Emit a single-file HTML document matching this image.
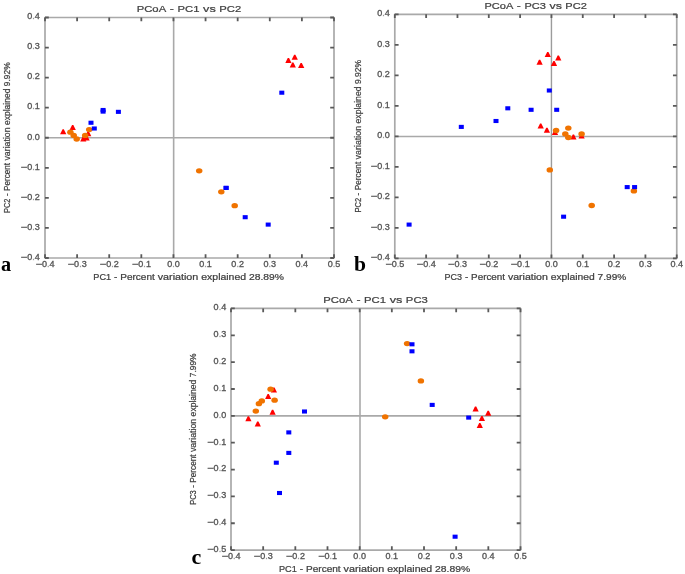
<!DOCTYPE html>
<html><head><meta charset="utf-8"><style>
html,body{margin:0;padding:0;background:#fff;}
svg{display:block;}
text{font-family:"Liberation Sans",sans-serif;fill:#404040;stroke:#404040;stroke-width:0.22px;}
text.tk{font-size:8.6px;fill:#555555;stroke:#555555;stroke-width:0.32px;}
text.dt{fill-opacity:0.45;stroke-opacity:0.45;}
text.ti{font-size:9.7px;}
text.xl{font-size:8.3px;}
text.yl{font-size:9.7px;}
text.let{font-family:"Liberation Serif",serif;font-weight:bold;font-size:19.7px;fill:#000;stroke:none;}
</style></head><body>
<svg width="685" height="574" viewBox="0 0 685 574">
<defs>
<filter id="bs" x="0" y="0" width="685" height="574" filterUnits="userSpaceOnUse"><feGaussianBlur stdDeviation="0.45"/></filter>
<filter id="bt" x="0" y="0" width="685" height="574" filterUnits="userSpaceOnUse"><feGaussianBlur stdDeviation="0.68"/></filter>
</defs>
<rect width="685" height="574" fill="#fff"/>
<g filter="url(#bs)">
<line x1="173.65" y1="17.5" x2="173.65" y2="258" stroke="#a9a9a9" stroke-width="1.6"/>
<line x1="45" y1="137.75" x2="334" y2="137.75" stroke="#a9a9a9" stroke-width="1.6"/>
<path d="M62.55 129.25H63.85L66.3 134.25H60.1Z" fill="#ff0000"/>
<path d="M72.05 125H73.35L75.8 130H69.6Z" fill="#ff0000"/>
<path d="M82.65 136.5H83.95L86.4 141.5H80.2Z" fill="#ff0000"/>
<path d="M87.55 131.3H88.85L91.3 136.3H85.1Z" fill="#ff0000"/>
<path d="M85.95 135.5H87.25L89.7 140.5H83.5Z" fill="#ff0000"/>
<path d="M294.1 54.8H295.4L297.85 59.8H291.65Z" fill="#ff0000"/>
<path d="M287.75 58H289.05L291.5 63H285.3Z" fill="#ff0000"/>
<path d="M292.15 62.4H293.45L295.9 67.4H289.7Z" fill="#ff0000"/>
<path d="M300.55 63.1H301.85L304.3 68.1H298.1Z" fill="#ff0000"/>
<ellipse cx="70.4" cy="132.2" rx="3.25" ry="2.65" fill="#f07300"/>
<ellipse cx="73.7" cy="135.4" rx="3.25" ry="2.65" fill="#f07300"/>
<ellipse cx="76.7" cy="139" rx="3.25" ry="2.65" fill="#f07300"/>
<ellipse cx="85.2" cy="135.4" rx="3.25" ry="2.65" fill="#f07300"/>
<ellipse cx="89.2" cy="129.6" rx="3.25" ry="2.65" fill="#f07300"/>
<ellipse cx="199.2" cy="170.8" rx="3.25" ry="2.65" fill="#f07300"/>
<ellipse cx="221.3" cy="191.8" rx="3.25" ry="2.65" fill="#f07300"/>
<ellipse cx="234.7" cy="205.7" rx="3.25" ry="2.65" fill="#f07300"/>
<rect x="100.6" y="107.95" width="5.0" height="4.1" fill="#0000ff"/>
<rect x="100.6" y="109.55" width="5.0" height="4.1" fill="#0000ff"/>
<rect x="115.9" y="109.8" width="5.0" height="4.1" fill="#0000ff"/>
<rect x="88.5" y="120.7" width="5.0" height="4.1" fill="#0000ff"/>
<rect x="91.8" y="126.45" width="5.0" height="4.1" fill="#0000ff"/>
<rect x="279.3" y="90.65" width="5.0" height="4.1" fill="#0000ff"/>
<rect x="223.6" y="185.85" width="5.0" height="4.1" fill="#0000ff"/>
<rect x="223.6" y="185.85" width="5.0" height="4.1" fill="#0000ff"/>
<rect x="242.7" y="215.15" width="5.0" height="4.1" fill="#0000ff"/>
<rect x="265.7" y="222.55" width="5.0" height="4.1" fill="#0000ff"/>
<rect x="45" y="17.5" width="289" height="240.5" fill="none" stroke="#a9a9a9" stroke-width="1.7" stroke-linejoin="round"/>
<path d="M45 17.5v3.8M45 258v-3.8M77.11 17.5v3.8M77.11 258v-3.8M109.22 17.5v3.8M109.22 258v-3.8M141.33 17.5v3.8M141.33 258v-3.8M173.44 17.5v3.8M173.44 258v-3.8M205.56 17.5v3.8M205.56 258v-3.8M237.67 17.5v3.8M237.67 258v-3.8M269.78 17.5v3.8M269.78 258v-3.8M301.89 17.5v3.8M301.89 258v-3.8M334 17.5v3.8M334 258v-3.8M45 258h3.8M334 258h-3.8M45 227.94h3.8M334 227.94h-3.8M45 197.88h3.8M334 197.88h-3.8M45 167.81h3.8M334 167.81h-3.8M45 137.75h3.8M334 137.75h-3.8M45 107.69h3.8M334 107.69h-3.8M45 77.62h3.8M334 77.62h-3.8M45 47.56h3.8M334 47.56h-3.8M45 17.5h3.8M334 17.5h-3.8" stroke="#5a5a5a" stroke-width="1.8" fill="none"/>
<line x1="551.44" y1="14.28" x2="551.44" y2="258.35" stroke="#9c9c9c" stroke-width="1.4"/>
<line x1="394.8" y1="136.45" x2="676.75" y2="136.45" stroke="#a9a9a9" stroke-width="1.6"/>
<path d="M547.15 52.1H548.45L550.9 57.1H544.7Z" fill="#ff0000"/>
<path d="M538.95 59.7H540.25L542.7 64.7H536.5Z" fill="#ff0000"/>
<path d="M557.65 55.6H558.95L561.4 60.6H555.2Z" fill="#ff0000"/>
<path d="M553.35 60.9H554.65L557.1 65.9H550.9Z" fill="#ff0000"/>
<path d="M540.05 123.5H541.35L543.8 128.5H537.6Z" fill="#ff0000"/>
<path d="M546.25 127.8H547.55L550 132.8H543.8Z" fill="#ff0000"/>
<path d="M554.35 129.9H555.65L558.1 134.9H551.9Z" fill="#ff0000"/>
<path d="M572.75 134.5H574.05L576.5 139.5H570.3Z" fill="#ff0000"/>
<path d="M580.95 133.5H582.25L584.7 138.5H578.5Z" fill="#ff0000"/>
<ellipse cx="556.1" cy="130.5" rx="3.25" ry="2.65" fill="#f07300"/>
<ellipse cx="568.3" cy="128.1" rx="3.25" ry="2.65" fill="#f07300"/>
<ellipse cx="565.3" cy="133.9" rx="3.25" ry="2.65" fill="#f07300"/>
<ellipse cx="568.3" cy="137.5" rx="3.25" ry="2.65" fill="#f07300"/>
<ellipse cx="581.6" cy="133.9" rx="3.25" ry="2.65" fill="#f07300"/>
<ellipse cx="549.8" cy="169.9" rx="3.25" ry="2.65" fill="#f07300"/>
<ellipse cx="591.7" cy="205.5" rx="3.25" ry="2.65" fill="#f07300"/>
<ellipse cx="633.9" cy="190.9" rx="3.25" ry="2.65" fill="#f07300"/>
<rect x="458.8" y="124.85" width="5.0" height="4.1" fill="#0000ff"/>
<rect x="493.5" y="118.95" width="5.0" height="4.1" fill="#0000ff"/>
<rect x="505.3" y="106.25" width="5.0" height="4.1" fill="#0000ff"/>
<rect x="528.6" y="107.75" width="5.0" height="4.1" fill="#0000ff"/>
<rect x="554.2" y="107.75" width="5.0" height="4.1" fill="#0000ff"/>
<rect x="546.8" y="88.45" width="5.0" height="4.1" fill="#0000ff"/>
<rect x="561.1" y="214.65" width="5.0" height="4.1" fill="#0000ff"/>
<rect x="624.7" y="185.05" width="5.0" height="4.1" fill="#0000ff"/>
<rect x="632.1" y="185.05" width="5.0" height="4.1" fill="#0000ff"/>
<rect x="406.6" y="222.55" width="5.0" height="4.1" fill="#0000ff"/>
<rect x="394.8" y="14.28" width="281.95" height="244.07" fill="none" stroke="#a9a9a9" stroke-width="1.7" stroke-linejoin="round"/>
<path d="M394.8 14.28v3.8M394.8 258.35v-3.8M426.13 14.28v3.8M426.13 258.35v-3.8M457.46 14.28v3.8M457.46 258.35v-3.8M488.78 14.28v3.8M488.78 258.35v-3.8M520.11 14.28v3.8M520.11 258.35v-3.8M551.44 14.28v3.8M551.44 258.35v-3.8M582.77 14.28v3.8M582.77 258.35v-3.8M614.09 14.28v3.8M614.09 258.35v-3.8M645.42 14.28v3.8M645.42 258.35v-3.8M676.75 14.28v3.8M676.75 258.35v-3.8M394.8 258.35h3.8M676.75 258.35h-3.8M394.8 227.84h3.8M676.75 227.84h-3.8M394.8 197.33h3.8M676.75 197.33h-3.8M394.8 166.82h3.8M676.75 166.82h-3.8M394.8 136.32h3.8M676.75 136.32h-3.8M394.8 105.81h3.8M676.75 105.81h-3.8M394.8 75.3h3.8M676.75 75.3h-3.8M394.8 44.79h3.8M676.75 44.79h-3.8M394.8 14.28h3.8M676.75 14.28h-3.8" stroke="#5a5a5a" stroke-width="1.8" fill="none"/>
<line x1="360" y1="308.45" x2="360" y2="550.1" stroke="#a9a9a9" stroke-width="1.6"/>
<line x1="231" y1="415.85" x2="520.5" y2="415.85" stroke="#a9a9a9" stroke-width="1.6"/>
<path d="M247.75 416.3H249.05L251.5 421.3H245.3Z" fill="#ff0000"/>
<path d="M257.15 421.4H258.45L260.9 426.4H254.7Z" fill="#ff0000"/>
<path d="M267.55 393.9H268.85L271.3 398.9H265.1Z" fill="#ff0000"/>
<path d="M271.95 409.7H273.25L275.7 414.7H269.5Z" fill="#ff0000"/>
<path d="M273.25 387.6H274.55L277 392.6H270.8Z" fill="#ff0000"/>
<path d="M474.95 406.4H476.25L478.7 411.4H472.5Z" fill="#ff0000"/>
<path d="M487.55 410.7H488.85L491.3 415.7H485.1Z" fill="#ff0000"/>
<path d="M481.25 415.9H482.55L485 420.9H478.8Z" fill="#ff0000"/>
<path d="M479.15 423.1H480.45L482.9 428.1H476.7Z" fill="#ff0000"/>
<ellipse cx="255.8" cy="411.1" rx="3.25" ry="2.65" fill="#f07300"/>
<ellipse cx="258.9" cy="403.7" rx="3.25" ry="2.65" fill="#f07300"/>
<ellipse cx="261.8" cy="400.9" rx="3.25" ry="2.65" fill="#f07300"/>
<ellipse cx="270.6" cy="389.2" rx="3.25" ry="2.65" fill="#f07300"/>
<ellipse cx="274.6" cy="400.2" rx="3.25" ry="2.65" fill="#f07300"/>
<ellipse cx="407.1" cy="343.6" rx="3.25" ry="2.65" fill="#f07300"/>
<ellipse cx="420.9" cy="380.9" rx="3.25" ry="2.65" fill="#f07300"/>
<ellipse cx="385.2" cy="416.8" rx="3.25" ry="2.65" fill="#f07300"/>
<rect x="302" y="409.45" width="5.0" height="4.1" fill="#0000ff"/>
<rect x="286.3" y="430.35" width="5.0" height="4.1" fill="#0000ff"/>
<rect x="286.3" y="450.85" width="5.0" height="4.1" fill="#0000ff"/>
<rect x="273.8" y="460.65" width="5.0" height="4.1" fill="#0000ff"/>
<rect x="277" y="490.95" width="5.0" height="4.1" fill="#0000ff"/>
<rect x="409.5" y="342.25" width="5.0" height="4.1" fill="#0000ff"/>
<rect x="409.5" y="349.25" width="5.0" height="4.1" fill="#0000ff"/>
<rect x="429.7" y="402.85" width="5.0" height="4.1" fill="#0000ff"/>
<rect x="466.2" y="415.55" width="5.0" height="4.1" fill="#0000ff"/>
<rect x="452.6" y="534.65" width="5.0" height="4.1" fill="#0000ff"/>
<rect x="231" y="308.45" width="289.5" height="241.65" fill="none" stroke="#a9a9a9" stroke-width="1.7" stroke-linejoin="round"/>
<path d="M231 308.45v3.8M231 550.1v-3.8M263.17 308.45v3.8M263.17 550.1v-3.8M295.33 308.45v3.8M295.33 550.1v-3.8M327.5 308.45v3.8M327.5 550.1v-3.8M359.67 308.45v3.8M359.67 550.1v-3.8M391.83 308.45v3.8M391.83 550.1v-3.8M424 308.45v3.8M424 550.1v-3.8M456.17 308.45v3.8M456.17 550.1v-3.8M488.33 308.45v3.8M488.33 550.1v-3.8M520.5 308.45v3.8M520.5 550.1v-3.8M231 550.1h3.8M520.5 550.1h-3.8M231 523.25h3.8M520.5 523.25h-3.8M231 496.4h3.8M520.5 496.4h-3.8M231 469.55h3.8M520.5 469.55h-3.8M231 442.7h3.8M520.5 442.7h-3.8M231 415.85h3.8M520.5 415.85h-3.8M231 389h3.8M520.5 389h-3.8M231 362.15h3.8M520.5 362.15h-3.8M231 335.3h3.8M520.5 335.3h-3.8M231 308.45h3.8M520.5 308.45h-3.8" stroke="#5a5a5a" stroke-width="1.8" fill="none"/>
</g>
<g filter="url(#bt)">
<text class="tk" x="35.41" y="267" textLength="6.62" lengthAdjust="spacingAndGlyphs">−</text><text class="tk" x="42.03" y="267" textLength="5.03" lengthAdjust="spacingAndGlyphs">0</text><text class="tk dt" x="47.05" y="267" textLength="2.51" lengthAdjust="spacingAndGlyphs">.</text><text class="tk" x="49.57" y="267" textLength="5.03" lengthAdjust="spacingAndGlyphs">4</text>
<text class="tk" x="67.52" y="267" textLength="6.62" lengthAdjust="spacingAndGlyphs">−</text><text class="tk" x="74.14" y="267" textLength="5.03" lengthAdjust="spacingAndGlyphs">0</text><text class="tk dt" x="79.17" y="267" textLength="2.51" lengthAdjust="spacingAndGlyphs">.</text><text class="tk" x="81.68" y="267" textLength="5.03" lengthAdjust="spacingAndGlyphs">3</text>
<text class="tk" x="99.63" y="267" textLength="6.62" lengthAdjust="spacingAndGlyphs">−</text><text class="tk" x="106.25" y="267" textLength="5.03" lengthAdjust="spacingAndGlyphs">0</text><text class="tk dt" x="111.28" y="267" textLength="2.51" lengthAdjust="spacingAndGlyphs">.</text><text class="tk" x="113.79" y="267" textLength="5.03" lengthAdjust="spacingAndGlyphs">2</text>
<text class="tk" x="131.74" y="267" textLength="6.62" lengthAdjust="spacingAndGlyphs">−</text><text class="tk" x="138.36" y="267" textLength="5.03" lengthAdjust="spacingAndGlyphs">0</text><text class="tk dt" x="143.39" y="267" textLength="2.51" lengthAdjust="spacingAndGlyphs">.</text><text class="tk" x="145.9" y="267" textLength="5.03" lengthAdjust="spacingAndGlyphs">1</text>
<text class="tk" x="167.16" y="267" textLength="5.03" lengthAdjust="spacingAndGlyphs">0</text><text class="tk dt" x="172.19" y="267" textLength="2.51" lengthAdjust="spacingAndGlyphs">.</text><text class="tk" x="174.7" y="267" textLength="5.03" lengthAdjust="spacingAndGlyphs">0</text>
<text class="tk" x="199.27" y="267" textLength="5.03" lengthAdjust="spacingAndGlyphs">0</text><text class="tk dt" x="204.3" y="267" textLength="2.51" lengthAdjust="spacingAndGlyphs">.</text><text class="tk" x="206.81" y="267" textLength="5.03" lengthAdjust="spacingAndGlyphs">1</text>
<text class="tk" x="231.38" y="267" textLength="5.03" lengthAdjust="spacingAndGlyphs">0</text><text class="tk dt" x="236.41" y="267" textLength="2.51" lengthAdjust="spacingAndGlyphs">.</text><text class="tk" x="238.92" y="267" textLength="5.03" lengthAdjust="spacingAndGlyphs">2</text>
<text class="tk" x="263.5" y="267" textLength="5.03" lengthAdjust="spacingAndGlyphs">0</text><text class="tk dt" x="268.52" y="267" textLength="2.51" lengthAdjust="spacingAndGlyphs">.</text><text class="tk" x="271.03" y="267" textLength="5.03" lengthAdjust="spacingAndGlyphs">3</text>
<text class="tk" x="295.61" y="267" textLength="5.03" lengthAdjust="spacingAndGlyphs">0</text><text class="tk dt" x="300.63" y="267" textLength="2.51" lengthAdjust="spacingAndGlyphs">.</text><text class="tk" x="303.14" y="267" textLength="5.03" lengthAdjust="spacingAndGlyphs">4</text>
<text class="tk" x="327.72" y="267" textLength="5.03" lengthAdjust="spacingAndGlyphs">0</text><text class="tk dt" x="332.74" y="267" textLength="2.51" lengthAdjust="spacingAndGlyphs">.</text><text class="tk" x="335.26" y="267" textLength="5.03" lengthAdjust="spacingAndGlyphs">5</text>
<text class="tk" x="20.62" y="259.8" textLength="6.62" lengthAdjust="spacingAndGlyphs">−</text><text class="tk" x="27.24" y="259.8" textLength="5.03" lengthAdjust="spacingAndGlyphs">0</text><text class="tk dt" x="32.26" y="259.8" textLength="2.51" lengthAdjust="spacingAndGlyphs">.</text><text class="tk" x="34.77" y="259.8" textLength="5.03" lengthAdjust="spacingAndGlyphs">4</text>
<text class="tk" x="20.62" y="229.74" textLength="6.62" lengthAdjust="spacingAndGlyphs">−</text><text class="tk" x="27.24" y="229.74" textLength="5.03" lengthAdjust="spacingAndGlyphs">0</text><text class="tk dt" x="32.26" y="229.74" textLength="2.51" lengthAdjust="spacingAndGlyphs">.</text><text class="tk" x="34.77" y="229.74" textLength="5.03" lengthAdjust="spacingAndGlyphs">3</text>
<text class="tk" x="20.62" y="199.68" textLength="6.62" lengthAdjust="spacingAndGlyphs">−</text><text class="tk" x="27.24" y="199.68" textLength="5.03" lengthAdjust="spacingAndGlyphs">0</text><text class="tk dt" x="32.26" y="199.68" textLength="2.51" lengthAdjust="spacingAndGlyphs">.</text><text class="tk" x="34.77" y="199.68" textLength="5.03" lengthAdjust="spacingAndGlyphs">2</text>
<text class="tk" x="20.62" y="169.61" textLength="6.62" lengthAdjust="spacingAndGlyphs">−</text><text class="tk" x="27.24" y="169.61" textLength="5.03" lengthAdjust="spacingAndGlyphs">0</text><text class="tk dt" x="32.26" y="169.61" textLength="2.51" lengthAdjust="spacingAndGlyphs">.</text><text class="tk" x="34.77" y="169.61" textLength="5.03" lengthAdjust="spacingAndGlyphs">1</text>
<text class="tk" x="27.24" y="139.55" textLength="5.03" lengthAdjust="spacingAndGlyphs">0</text><text class="tk dt" x="32.26" y="139.55" textLength="2.51" lengthAdjust="spacingAndGlyphs">.</text><text class="tk" x="34.77" y="139.55" textLength="5.03" lengthAdjust="spacingAndGlyphs">0</text>
<text class="tk" x="27.24" y="109.49" textLength="5.03" lengthAdjust="spacingAndGlyphs">0</text><text class="tk dt" x="32.26" y="109.49" textLength="2.51" lengthAdjust="spacingAndGlyphs">.</text><text class="tk" x="34.77" y="109.49" textLength="5.03" lengthAdjust="spacingAndGlyphs">1</text>
<text class="tk" x="27.24" y="79.42" textLength="5.03" lengthAdjust="spacingAndGlyphs">0</text><text class="tk dt" x="32.26" y="79.42" textLength="2.51" lengthAdjust="spacingAndGlyphs">.</text><text class="tk" x="34.77" y="79.42" textLength="5.03" lengthAdjust="spacingAndGlyphs">2</text>
<text class="tk" x="27.24" y="49.36" textLength="5.03" lengthAdjust="spacingAndGlyphs">0</text><text class="tk dt" x="32.26" y="49.36" textLength="2.51" lengthAdjust="spacingAndGlyphs">.</text><text class="tk" x="34.77" y="49.36" textLength="5.03" lengthAdjust="spacingAndGlyphs">3</text>
<text class="tk" x="27.24" y="19.3" textLength="5.03" lengthAdjust="spacingAndGlyphs">0</text><text class="tk dt" x="32.26" y="19.3" textLength="2.51" lengthAdjust="spacingAndGlyphs">.</text><text class="tk" x="34.77" y="19.3" textLength="5.03" lengthAdjust="spacingAndGlyphs">4</text>
<text class="ti" x="136.7" y="12.4" textLength="29.47" lengthAdjust="spacingAndGlyphs">PCoA</text><text class="ti" x="169.78" y="12.4" textLength="4.09" lengthAdjust="spacingAndGlyphs">-</text><text class="ti" x="177.48" y="12.4" textLength="21.99" lengthAdjust="spacingAndGlyphs">PC1</text><text class="ti" x="203.08" y="12.4" textLength="12.63" lengthAdjust="spacingAndGlyphs">vs</text><text class="ti" x="219.31" y="12.4" textLength="21.99" lengthAdjust="spacingAndGlyphs">PC2</text>
<text class="xl" x="93.3" y="280" textLength="17.8" lengthAdjust="spacingAndGlyphs">PC1</text><text class="xl" x="114.02" y="280" textLength="3.31" lengthAdjust="spacingAndGlyphs">-</text><text class="xl" x="120.25" y="280" textLength="34.56" lengthAdjust="spacingAndGlyphs">Percent</text><text class="xl" x="157.73" y="280" textLength="40.62" lengthAdjust="spacingAndGlyphs">variation</text><text class="xl" x="201.27" y="280" textLength="44.79" lengthAdjust="spacingAndGlyphs">explained</text><text class="xl" x="248.98" y="280" textLength="35.02" lengthAdjust="spacingAndGlyphs">28.89%</text>
<g transform="translate(9.6 213) rotate(-90)"><text class="yl" x="0" y="0" textLength="14.5" lengthAdjust="spacingAndGlyphs">PC2</text><text class="yl" x="16.88" y="0" textLength="2.7" lengthAdjust="spacingAndGlyphs">-</text><text class="yl" x="21.96" y="0" textLength="28.16" lengthAdjust="spacingAndGlyphs">Percent</text><text class="yl" x="52.49" y="0" textLength="33.09" lengthAdjust="spacingAndGlyphs">variation</text><text class="yl" x="87.96" y="0" textLength="36.49" lengthAdjust="spacingAndGlyphs">explained</text><text class="yl" x="126.83" y="0" textLength="23.77" lengthAdjust="spacingAndGlyphs">9.92%</text></g>
<text class="let" style="font-size:20.3px" x="1.1" y="270.5">a</text>
<text class="tk" x="385.21" y="267.4" textLength="6.62" lengthAdjust="spacingAndGlyphs">−</text><text class="tk" x="391.83" y="267.4" textLength="5.03" lengthAdjust="spacingAndGlyphs">0</text><text class="tk dt" x="396.85" y="267.4" textLength="2.51" lengthAdjust="spacingAndGlyphs">.</text><text class="tk" x="399.37" y="267.4" textLength="5.03" lengthAdjust="spacingAndGlyphs">5</text>
<text class="tk" x="416.54" y="267.4" textLength="6.62" lengthAdjust="spacingAndGlyphs">−</text><text class="tk" x="423.16" y="267.4" textLength="5.03" lengthAdjust="spacingAndGlyphs">0</text><text class="tk dt" x="428.18" y="267.4" textLength="2.51" lengthAdjust="spacingAndGlyphs">.</text><text class="tk" x="430.69" y="267.4" textLength="5.03" lengthAdjust="spacingAndGlyphs">4</text>
<text class="tk" x="447.86" y="267.4" textLength="6.62" lengthAdjust="spacingAndGlyphs">−</text><text class="tk" x="454.48" y="267.4" textLength="5.03" lengthAdjust="spacingAndGlyphs">0</text><text class="tk dt" x="459.51" y="267.4" textLength="2.51" lengthAdjust="spacingAndGlyphs">.</text><text class="tk" x="462.02" y="267.4" textLength="5.03" lengthAdjust="spacingAndGlyphs">3</text>
<text class="tk" x="479.19" y="267.4" textLength="6.62" lengthAdjust="spacingAndGlyphs">−</text><text class="tk" x="485.81" y="267.4" textLength="5.03" lengthAdjust="spacingAndGlyphs">0</text><text class="tk dt" x="490.84" y="267.4" textLength="2.51" lengthAdjust="spacingAndGlyphs">.</text><text class="tk" x="493.35" y="267.4" textLength="5.03" lengthAdjust="spacingAndGlyphs">2</text>
<text class="tk" x="510.52" y="267.4" textLength="6.62" lengthAdjust="spacingAndGlyphs">−</text><text class="tk" x="517.14" y="267.4" textLength="5.03" lengthAdjust="spacingAndGlyphs">0</text><text class="tk dt" x="522.17" y="267.4" textLength="2.51" lengthAdjust="spacingAndGlyphs">.</text><text class="tk" x="524.68" y="267.4" textLength="5.03" lengthAdjust="spacingAndGlyphs">1</text>
<text class="tk" x="545.16" y="267.4" textLength="5.03" lengthAdjust="spacingAndGlyphs">0</text><text class="tk dt" x="550.18" y="267.4" textLength="2.51" lengthAdjust="spacingAndGlyphs">.</text><text class="tk" x="552.69" y="267.4" textLength="5.03" lengthAdjust="spacingAndGlyphs">0</text>
<text class="tk" x="576.48" y="267.4" textLength="5.03" lengthAdjust="spacingAndGlyphs">0</text><text class="tk dt" x="581.51" y="267.4" textLength="2.51" lengthAdjust="spacingAndGlyphs">.</text><text class="tk" x="584.02" y="267.4" textLength="5.03" lengthAdjust="spacingAndGlyphs">1</text>
<text class="tk" x="607.81" y="267.4" textLength="5.03" lengthAdjust="spacingAndGlyphs">0</text><text class="tk dt" x="612.84" y="267.4" textLength="2.51" lengthAdjust="spacingAndGlyphs">.</text><text class="tk" x="615.35" y="267.4" textLength="5.03" lengthAdjust="spacingAndGlyphs">2</text>
<text class="tk" x="639.14" y="267.4" textLength="5.03" lengthAdjust="spacingAndGlyphs">0</text><text class="tk dt" x="644.17" y="267.4" textLength="2.51" lengthAdjust="spacingAndGlyphs">.</text><text class="tk" x="646.68" y="267.4" textLength="5.03" lengthAdjust="spacingAndGlyphs">3</text>
<text class="tk" x="670.47" y="267.4" textLength="5.03" lengthAdjust="spacingAndGlyphs">0</text><text class="tk dt" x="675.49" y="267.4" textLength="2.51" lengthAdjust="spacingAndGlyphs">.</text><text class="tk" x="678.01" y="267.4" textLength="5.03" lengthAdjust="spacingAndGlyphs">4</text>
<text class="tk" x="370.62" y="260.15" textLength="6.62" lengthAdjust="spacingAndGlyphs">−</text><text class="tk" x="377.24" y="260.15" textLength="5.03" lengthAdjust="spacingAndGlyphs">0</text><text class="tk dt" x="382.26" y="260.15" textLength="2.51" lengthAdjust="spacingAndGlyphs">.</text><text class="tk" x="384.77" y="260.15" textLength="5.03" lengthAdjust="spacingAndGlyphs">4</text>
<text class="tk" x="370.62" y="229.64" textLength="6.62" lengthAdjust="spacingAndGlyphs">−</text><text class="tk" x="377.24" y="229.64" textLength="5.03" lengthAdjust="spacingAndGlyphs">0</text><text class="tk dt" x="382.26" y="229.64" textLength="2.51" lengthAdjust="spacingAndGlyphs">.</text><text class="tk" x="384.77" y="229.64" textLength="5.03" lengthAdjust="spacingAndGlyphs">3</text>
<text class="tk" x="370.62" y="199.13" textLength="6.62" lengthAdjust="spacingAndGlyphs">−</text><text class="tk" x="377.24" y="199.13" textLength="5.03" lengthAdjust="spacingAndGlyphs">0</text><text class="tk dt" x="382.26" y="199.13" textLength="2.51" lengthAdjust="spacingAndGlyphs">.</text><text class="tk" x="384.77" y="199.13" textLength="5.03" lengthAdjust="spacingAndGlyphs">2</text>
<text class="tk" x="370.62" y="168.62" textLength="6.62" lengthAdjust="spacingAndGlyphs">−</text><text class="tk" x="377.24" y="168.62" textLength="5.03" lengthAdjust="spacingAndGlyphs">0</text><text class="tk dt" x="382.26" y="168.62" textLength="2.51" lengthAdjust="spacingAndGlyphs">.</text><text class="tk" x="384.77" y="168.62" textLength="5.03" lengthAdjust="spacingAndGlyphs">1</text>
<text class="tk" x="377.24" y="138.12" textLength="5.03" lengthAdjust="spacingAndGlyphs">0</text><text class="tk dt" x="382.26" y="138.12" textLength="2.51" lengthAdjust="spacingAndGlyphs">.</text><text class="tk" x="384.77" y="138.12" textLength="5.03" lengthAdjust="spacingAndGlyphs">0</text>
<text class="tk" x="377.24" y="107.61" textLength="5.03" lengthAdjust="spacingAndGlyphs">0</text><text class="tk dt" x="382.26" y="107.61" textLength="2.51" lengthAdjust="spacingAndGlyphs">.</text><text class="tk" x="384.77" y="107.61" textLength="5.03" lengthAdjust="spacingAndGlyphs">1</text>
<text class="tk" x="377.24" y="77.1" textLength="5.03" lengthAdjust="spacingAndGlyphs">0</text><text class="tk dt" x="382.26" y="77.1" textLength="2.51" lengthAdjust="spacingAndGlyphs">.</text><text class="tk" x="384.77" y="77.1" textLength="5.03" lengthAdjust="spacingAndGlyphs">2</text>
<text class="tk" x="377.24" y="46.59" textLength="5.03" lengthAdjust="spacingAndGlyphs">0</text><text class="tk dt" x="382.26" y="46.59" textLength="2.51" lengthAdjust="spacingAndGlyphs">.</text><text class="tk" x="384.77" y="46.59" textLength="5.03" lengthAdjust="spacingAndGlyphs">3</text>
<text class="tk" x="377.24" y="16.08" textLength="5.03" lengthAdjust="spacingAndGlyphs">0</text><text class="tk dt" x="382.26" y="16.08" textLength="2.51" lengthAdjust="spacingAndGlyphs">.</text><text class="tk" x="384.77" y="16.08" textLength="5.03" lengthAdjust="spacingAndGlyphs">4</text>
<text class="ti" x="484.5" y="8.9" textLength="28.85" lengthAdjust="spacingAndGlyphs">PCoA</text><text class="ti" x="516.88" y="8.9" textLength="4.01" lengthAdjust="spacingAndGlyphs">-</text><text class="ti" x="524.42" y="8.9" textLength="21.52" lengthAdjust="spacingAndGlyphs">PC3</text><text class="ti" x="549.48" y="8.9" textLength="12.36" lengthAdjust="spacingAndGlyphs">vs</text><text class="ti" x="565.38" y="8.9" textLength="21.52" lengthAdjust="spacingAndGlyphs">PC2</text>
<text class="xl" x="444.6" y="280.1" textLength="17.49" lengthAdjust="spacingAndGlyphs">PC3</text><text class="xl" x="464.96" y="280.1" textLength="3.26" lengthAdjust="spacingAndGlyphs">-</text><text class="xl" x="471.09" y="280.1" textLength="33.97" lengthAdjust="spacingAndGlyphs">Percent</text><text class="xl" x="507.93" y="280.1" textLength="39.92" lengthAdjust="spacingAndGlyphs">variation</text><text class="xl" x="550.72" y="280.1" textLength="44.03" lengthAdjust="spacingAndGlyphs">explained</text><text class="xl" x="597.62" y="280.1" textLength="28.68" lengthAdjust="spacingAndGlyphs">7.99%</text>
<g transform="translate(360.8 212.6) rotate(-90)"><text class="yl" x="0" y="0" textLength="14.69" lengthAdjust="spacingAndGlyphs">PC2</text><text class="yl" x="17.1" y="0" textLength="2.74" lengthAdjust="spacingAndGlyphs">-</text><text class="yl" x="22.25" y="0" textLength="28.53" lengthAdjust="spacingAndGlyphs">Percent</text><text class="yl" x="53.19" y="0" textLength="33.53" lengthAdjust="spacingAndGlyphs">variation</text><text class="yl" x="89.13" y="0" textLength="36.98" lengthAdjust="spacingAndGlyphs">explained</text><text class="yl" x="128.51" y="0" textLength="24.09" lengthAdjust="spacingAndGlyphs">9.92%</text></g>
<text class="let" style="font-size:21.6px" x="353.9" y="271.3">b</text>
<text class="tk" x="221.41" y="559.4" textLength="6.62" lengthAdjust="spacingAndGlyphs">−</text><text class="tk" x="228.03" y="559.4" textLength="5.03" lengthAdjust="spacingAndGlyphs">0</text><text class="tk dt" x="233.05" y="559.4" textLength="2.51" lengthAdjust="spacingAndGlyphs">.</text><text class="tk" x="235.57" y="559.4" textLength="5.03" lengthAdjust="spacingAndGlyphs">4</text>
<text class="tk" x="253.58" y="559.4" textLength="6.62" lengthAdjust="spacingAndGlyphs">−</text><text class="tk" x="260.19" y="559.4" textLength="5.03" lengthAdjust="spacingAndGlyphs">0</text><text class="tk dt" x="265.22" y="559.4" textLength="2.51" lengthAdjust="spacingAndGlyphs">.</text><text class="tk" x="267.73" y="559.4" textLength="5.03" lengthAdjust="spacingAndGlyphs">3</text>
<text class="tk" x="285.74" y="559.4" textLength="6.62" lengthAdjust="spacingAndGlyphs">−</text><text class="tk" x="292.36" y="559.4" textLength="5.03" lengthAdjust="spacingAndGlyphs">0</text><text class="tk dt" x="297.39" y="559.4" textLength="2.51" lengthAdjust="spacingAndGlyphs">.</text><text class="tk" x="299.9" y="559.4" textLength="5.03" lengthAdjust="spacingAndGlyphs">2</text>
<text class="tk" x="317.91" y="559.4" textLength="6.62" lengthAdjust="spacingAndGlyphs">−</text><text class="tk" x="324.53" y="559.4" textLength="5.03" lengthAdjust="spacingAndGlyphs">0</text><text class="tk dt" x="329.55" y="559.4" textLength="2.51" lengthAdjust="spacingAndGlyphs">.</text><text class="tk" x="332.07" y="559.4" textLength="5.03" lengthAdjust="spacingAndGlyphs">1</text>
<text class="tk" x="353.38" y="559.4" textLength="5.03" lengthAdjust="spacingAndGlyphs">0</text><text class="tk dt" x="358.41" y="559.4" textLength="2.51" lengthAdjust="spacingAndGlyphs">.</text><text class="tk" x="360.92" y="559.4" textLength="5.03" lengthAdjust="spacingAndGlyphs">0</text>
<text class="tk" x="385.55" y="559.4" textLength="5.03" lengthAdjust="spacingAndGlyphs">0</text><text class="tk dt" x="390.58" y="559.4" textLength="2.51" lengthAdjust="spacingAndGlyphs">.</text><text class="tk" x="393.09" y="559.4" textLength="5.03" lengthAdjust="spacingAndGlyphs">1</text>
<text class="tk" x="417.72" y="559.4" textLength="5.03" lengthAdjust="spacingAndGlyphs">0</text><text class="tk dt" x="422.74" y="559.4" textLength="2.51" lengthAdjust="spacingAndGlyphs">.</text><text class="tk" x="425.26" y="559.4" textLength="5.03" lengthAdjust="spacingAndGlyphs">2</text>
<text class="tk" x="449.88" y="559.4" textLength="5.03" lengthAdjust="spacingAndGlyphs">0</text><text class="tk dt" x="454.91" y="559.4" textLength="2.51" lengthAdjust="spacingAndGlyphs">.</text><text class="tk" x="457.42" y="559.4" textLength="5.03" lengthAdjust="spacingAndGlyphs">3</text>
<text class="tk" x="482.05" y="559.4" textLength="5.03" lengthAdjust="spacingAndGlyphs">0</text><text class="tk dt" x="487.08" y="559.4" textLength="2.51" lengthAdjust="spacingAndGlyphs">.</text><text class="tk" x="489.59" y="559.4" textLength="5.03" lengthAdjust="spacingAndGlyphs">4</text>
<text class="tk" x="514.22" y="559.4" textLength="5.03" lengthAdjust="spacingAndGlyphs">0</text><text class="tk dt" x="519.24" y="559.4" textLength="2.51" lengthAdjust="spacingAndGlyphs">.</text><text class="tk" x="521.76" y="559.4" textLength="5.03" lengthAdjust="spacingAndGlyphs">5</text>
<text class="tk" x="207.02" y="551.9" textLength="6.62" lengthAdjust="spacingAndGlyphs">−</text><text class="tk" x="213.64" y="551.9" textLength="5.03" lengthAdjust="spacingAndGlyphs">0</text><text class="tk dt" x="218.66" y="551.9" textLength="2.51" lengthAdjust="spacingAndGlyphs">.</text><text class="tk" x="221.17" y="551.9" textLength="5.03" lengthAdjust="spacingAndGlyphs">5</text>
<text class="tk" x="207.02" y="525.05" textLength="6.62" lengthAdjust="spacingAndGlyphs">−</text><text class="tk" x="213.64" y="525.05" textLength="5.03" lengthAdjust="spacingAndGlyphs">0</text><text class="tk dt" x="218.66" y="525.05" textLength="2.51" lengthAdjust="spacingAndGlyphs">.</text><text class="tk" x="221.17" y="525.05" textLength="5.03" lengthAdjust="spacingAndGlyphs">4</text>
<text class="tk" x="207.02" y="498.2" textLength="6.62" lengthAdjust="spacingAndGlyphs">−</text><text class="tk" x="213.64" y="498.2" textLength="5.03" lengthAdjust="spacingAndGlyphs">0</text><text class="tk dt" x="218.66" y="498.2" textLength="2.51" lengthAdjust="spacingAndGlyphs">.</text><text class="tk" x="221.17" y="498.2" textLength="5.03" lengthAdjust="spacingAndGlyphs">3</text>
<text class="tk" x="207.02" y="471.35" textLength="6.62" lengthAdjust="spacingAndGlyphs">−</text><text class="tk" x="213.64" y="471.35" textLength="5.03" lengthAdjust="spacingAndGlyphs">0</text><text class="tk dt" x="218.66" y="471.35" textLength="2.51" lengthAdjust="spacingAndGlyphs">.</text><text class="tk" x="221.17" y="471.35" textLength="5.03" lengthAdjust="spacingAndGlyphs">2</text>
<text class="tk" x="207.02" y="444.5" textLength="6.62" lengthAdjust="spacingAndGlyphs">−</text><text class="tk" x="213.64" y="444.5" textLength="5.03" lengthAdjust="spacingAndGlyphs">0</text><text class="tk dt" x="218.66" y="444.5" textLength="2.51" lengthAdjust="spacingAndGlyphs">.</text><text class="tk" x="221.17" y="444.5" textLength="5.03" lengthAdjust="spacingAndGlyphs">1</text>
<text class="tk" x="213.64" y="417.65" textLength="5.03" lengthAdjust="spacingAndGlyphs">0</text><text class="tk dt" x="218.66" y="417.65" textLength="2.51" lengthAdjust="spacingAndGlyphs">.</text><text class="tk" x="221.17" y="417.65" textLength="5.03" lengthAdjust="spacingAndGlyphs">0</text>
<text class="tk" x="213.64" y="390.8" textLength="5.03" lengthAdjust="spacingAndGlyphs">0</text><text class="tk dt" x="218.66" y="390.8" textLength="2.51" lengthAdjust="spacingAndGlyphs">.</text><text class="tk" x="221.17" y="390.8" textLength="5.03" lengthAdjust="spacingAndGlyphs">1</text>
<text class="tk" x="213.64" y="363.95" textLength="5.03" lengthAdjust="spacingAndGlyphs">0</text><text class="tk dt" x="218.66" y="363.95" textLength="2.51" lengthAdjust="spacingAndGlyphs">.</text><text class="tk" x="221.17" y="363.95" textLength="5.03" lengthAdjust="spacingAndGlyphs">2</text>
<text class="tk" x="213.64" y="337.1" textLength="5.03" lengthAdjust="spacingAndGlyphs">0</text><text class="tk dt" x="218.66" y="337.1" textLength="2.51" lengthAdjust="spacingAndGlyphs">.</text><text class="tk" x="221.17" y="337.1" textLength="5.03" lengthAdjust="spacingAndGlyphs">3</text>
<text class="tk" x="213.64" y="310.25" textLength="5.03" lengthAdjust="spacingAndGlyphs">0</text><text class="tk dt" x="218.66" y="310.25" textLength="2.51" lengthAdjust="spacingAndGlyphs">.</text><text class="tk" x="221.17" y="310.25" textLength="5.03" lengthAdjust="spacingAndGlyphs">4</text>
<text class="ti" x="323.35" y="303" textLength="29.44" lengthAdjust="spacingAndGlyphs">PCoA</text><text class="ti" x="356.4" y="303" textLength="4.09" lengthAdjust="spacingAndGlyphs">-</text><text class="ti" x="364.09" y="303" textLength="21.97" lengthAdjust="spacingAndGlyphs">PC1</text><text class="ti" x="389.66" y="303" textLength="12.62" lengthAdjust="spacingAndGlyphs">vs</text><text class="ti" x="405.88" y="303" textLength="21.97" lengthAdjust="spacingAndGlyphs">PC3</text>
<text class="xl" x="279" y="572" textLength="17.84" lengthAdjust="spacingAndGlyphs">PC1</text><text class="xl" x="299.77" y="572" textLength="3.32" lengthAdjust="spacingAndGlyphs">-</text><text class="xl" x="306.02" y="572" textLength="34.65" lengthAdjust="spacingAndGlyphs">Percent</text><text class="xl" x="343.6" y="572" textLength="40.72" lengthAdjust="spacingAndGlyphs">variation</text><text class="xl" x="387.25" y="572" textLength="44.91" lengthAdjust="spacingAndGlyphs">explained</text><text class="xl" x="435.09" y="572" textLength="35.11" lengthAdjust="spacingAndGlyphs">28.89%</text>
<g transform="translate(196.3 504.8) rotate(-90)"><text class="yl" x="0" y="0" textLength="14.58" lengthAdjust="spacingAndGlyphs">PC3</text><text class="yl" x="16.97" y="0" textLength="2.71" lengthAdjust="spacingAndGlyphs">-</text><text class="yl" x="22.07" y="0" textLength="28.31" lengthAdjust="spacingAndGlyphs">Percent</text><text class="yl" x="52.77" y="0" textLength="33.26" lengthAdjust="spacingAndGlyphs">variation</text><text class="yl" x="88.43" y="0" textLength="36.68" lengthAdjust="spacingAndGlyphs">explained</text><text class="yl" x="127.5" y="0" textLength="23.9" lengthAdjust="spacingAndGlyphs">7.99%</text></g>
<text class="let" style="font-size:22.0px" x="191.5" y="564.2">c</text>
</g>
</svg>
</body></html>
